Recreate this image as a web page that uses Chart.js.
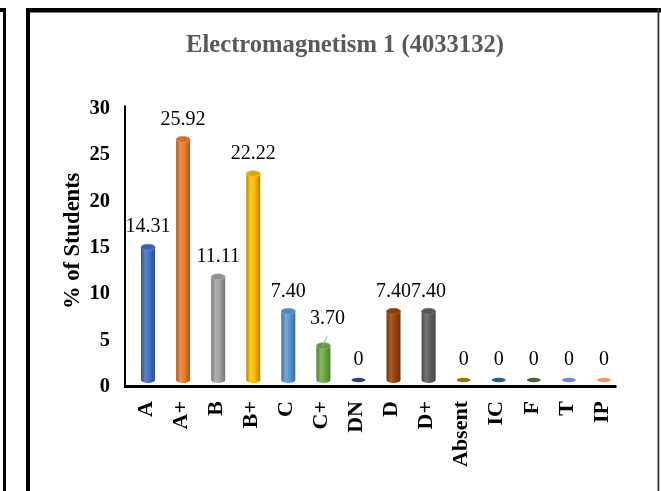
<!DOCTYPE html>
<html>
<head>
<meta charset="utf-8">
<style>
  html, body { margin: 0; padding: 0; background: #ffffff; }
  #wrap { position: relative; width: 661px; height: 491px; }
  canvas { display: block; }
</style>
<script src="https://cdn.jsdelivr.net/npm/chart.js@4.4.1/dist/chart.umd.min.js"></script>
</head>
<body>
<div id="wrap"><canvas id="c" width="661" height="491"></canvas></div>
<script>
// ---- data ----
const chartTitle = 'Electromagnetism 1 (4033132)';
const yAxisTitle = '% of Students';
const categories = ['A', 'A+', 'B', 'B+', 'C', 'C+', 'DN', 'D', 'D+', 'Absent', 'IC', 'F', 'T', 'IP'];
const percentStudents = [14.31, 25.92, 11.11, 22.22, 7.40, 3.70, 0, 7.40, 7.40, 0, 0, 0, 0, 0];
const yTicks = [0, 5, 10, 15, 20, 25, 30];
const barColors = ['#4472C4', '#ED7D31', '#A5A5A5', '#FFC000', '#5B9BD5', '#70AD47', '#264478',
                   '#9E480E', '#636363', '#997300', '#255E91', '#43682B', '#698ED0', '#F1975A'];

const SERIF = '"Liberation Serif", "Times New Roman", "DejaVu Serif", serif';

function shade(hex, f) {
  const n = parseInt(hex.slice(1), 16);
  let r = (n >> 16) & 255, g = (n >> 8) & 255, b = n & 255;
  if (f < 1) { r *= f; g *= f; b *= f; }
  else { r = r + (255 - r) * (f - 1); g = g + (255 - g) * (f - 1); b = b + (255 - b) * (f - 1); }
  return 'rgb(' + Math.round(r) + ',' + Math.round(g) + ',' + Math.round(b) + ')';
}

function cylGradient(ctx, x0, x1, col) {
  const g = ctx.createLinearGradient(x0, 0, x1, 0);
  g.addColorStop(0, shade(col, 0.72));
  g.addColorStop(0.3, shade(col, 1.12));
  g.addColorStop(0.55, col);
  g.addColorStop(1, shade(col, 0.7));
  return g;
}

const framePlugin = {
  id: 'frame',
  beforeDraw(chart) {
    const ctx = chart.ctx;
    ctx.save();
    ctx.fillStyle = '#ffffff';
    ctx.fillRect(0, 0, chart.width, chart.height);
    ctx.fillStyle = '#000000';
    // neighbouring frame edge
    ctx.fillRect(0, 8, 6, 4);
    ctx.fillRect(3, 8, 3, chart.height - 8);
    // main frame
    ctx.fillRect(26, 8, chart.width - 26, 4.5);
    ctx.fillRect(26, 8, 4, chart.height - 8);
    ctx.fillStyle = '#333333';
    ctx.fillRect(657.5, 8, 1.8, chart.height - 8);
    ctx.restore();
  }
};

const cylinderPlugin = {
  id: 'cyl',
  afterDatasetsDraw(chart) {
    const ctx = chart.ctx;
    const meta = chart.getDatasetMeta(0);
    meta.data.forEach((el, i) => {
      const col = barColors[i];
      const w = el.width, x = el.x, top = el.y, base = el.base;
      const rx = w / 2;
      ctx.save();
      if (percentStudents[i] > 0) {
        ctx.beginPath();
        ctx.ellipse(x, base, rx, 3, 0, 0, Math.PI);
        ctx.fillStyle = cylGradient(ctx, x - rx, x + rx, col);
        ctx.fill();
        ctx.beginPath();
        ctx.ellipse(x, top, rx, 3, 0, 0, Math.PI * 2);
        ctx.fillStyle = shade(col, 0.88);
        ctx.fill();
        ctx.strokeStyle = shade(col, 1.15);
        ctx.lineWidth = 0.8;
        ctx.stroke();
      } else {
        ctx.beginPath();
        ctx.ellipse(x, base, rx, 2.2, 0, 0, Math.PI * 2);
        ctx.fillStyle = col;
        ctx.fill();
      }
      ctx.restore();
    });
  },
  afterDraw(chart) {
    const ctx = chart.ctx;
    const a = chart.chartArea;
    const ys = chart.scales.y;
    const meta = chart.getDatasetMeta(0);
    ctx.save();
    // axis lines (front plane of the 3-D chart)
    ctx.strokeStyle = '#000000';
    ctx.lineWidth = 2;
    ctx.beginPath();
    ctx.moveTo(a.left - 5.5, ys.getPixelForValue(30) + 4);
    ctx.lineTo(a.left - 5.5, a.bottom + 7);
    ctx.stroke();
    ctx.lineWidth = 3;
    ctx.beginPath();
    ctx.moveTo(a.left - 6.5, a.bottom + 6.5);
    ctx.lineTo(a.right - 5, a.bottom + 6.5);
    ctx.stroke();

    // data labels
    ctx.fillStyle = '#000000';
    ctx.font = '20px ' + SERIF;
    ctx.textAlign = 'center';
    ctx.textBaseline = 'middle';
    meta.data.forEach((el, i) => {
      const v = percentStudents[i];
      const txt = v === 0 ? '0' : v.toFixed(2);
      let lx = el.x, ly = el.y - 20;
      if (v > 0 && v < 5) {
        lx = el.x + 4; ly = el.y - 27;
        ctx.save();
        ctx.strokeStyle = '#a6a6a6';
        ctx.lineWidth = 1;
        ctx.beginPath();
        ctx.moveTo(el.x - 1, el.y + 1);
        ctx.lineTo(el.x + 4, el.y - 10);
        ctx.stroke();
        ctx.restore();
      }
      ctx.fillText(txt, lx, ly);
    });

    // category labels, rotated to read bottom-to-top
    ctx.font = 'bold 22px ' + SERIF;
    ctx.textAlign = 'right';
    ctx.textBaseline = 'middle';
    meta.data.forEach((el, i) => {
      ctx.save();
      ctx.translate(el.x - 2, a.bottom + 21);
      ctx.rotate(-Math.PI / 2);
      ctx.fillText(categories[i], 0, 0);
      ctx.restore();
    });
    ctx.restore();
  }
};

new Chart(document.getElementById('c'), {
  type: 'bar',
  data: {
    labels: categories,
    datasets: [{
      data: percentStudents,
      backgroundColor: (c) => {
        const col = barColors[c.dataIndex];
        const ch = c.chart;
        if (!ch.chartArea || !ch.scales || !ch.scales.x) return col;
        const x = ch.scales.x.getPixelForValue(c.dataIndex);
        return cylGradient(ch.ctx, x - 7, x + 7, col);
      },
      borderWidth: 0,
      barPercentage: 0.4,
      categoryPercentage: 1.0
    }]
  },
  options: {
    responsive: false,
    animation: false,
    devicePixelRatio: 1,
    layout: { padding: { top: 12, left: 68.5, right: 39.5, bottom: 111 } },
    plugins: {
      legend: { display: false },
      tooltip: { enabled: false },
      title: {
        display: true,
        text: chartTitle,
        color: '#595959',
        font: { family: SERIF, size: 24.6, weight: 'bold' },
        padding: { top: 19, bottom: 41 }
      }
    },
    scales: {
      x: {
        display: false,
        grid: { display: false }
      },
      y: {
        min: 0,
        max: 30,
        afterBuildTicks: (s) => { s.ticks = yTicks.map(v => ({ value: v })); },
        afterFit: (s) => { s.width = 62; },
        grid: { display: false, drawTicks: false },
        border: { display: false },
        ticks: {
          color: '#000000',
          padding: 20.5,
          labelOffset: 7,
          font: { family: SERIF, size: 20.5, weight: 'bold' }
        },
        title: {
          display: true,
          text: yAxisTitle,
          color: '#000000',
          padding: { top: -9, bottom: 4 },
          font: { family: SERIF, size: 22.5, weight: 'bold' }
        }
      }
    }
  },
  plugins: [framePlugin, cylinderPlugin]
});
</script>
</body>
</html>
